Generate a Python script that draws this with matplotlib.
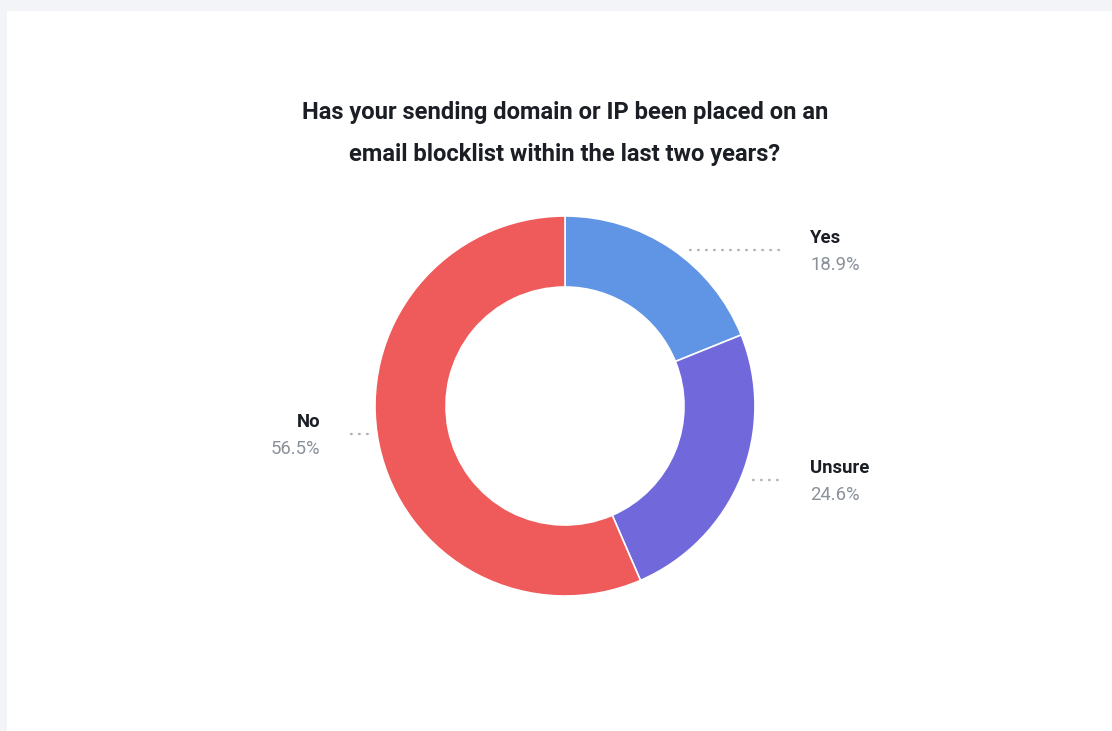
import numpy as np
import matplotlib.pyplot as plt
from matplotlib.patches import Rectangle

plt.rcParams['font.family'] = ['Roboto', 'DejaVu Sans']

title = "Has your sending domain or IP been placed on an\nemail blocklist within the last two years?"
labels = ["Yes", "Unsure", "No"]
shares = [18.9, 24.6, 56.5]
colors = ["#6095e6", "#7068db", "#ef5a5a"]

W, H = 1112, 731
fig = plt.figure(figsize=(W / 100, H / 100), dpi=100)
fig.patch.set_facecolor("#f3f4f8")
ax = fig.add_axes([0, 0, 1, 1])
ax.set_xlim(0, W)
ax.set_ylim(0, H)
ax.set_aspect("equal")
ax.axis("off")

# white card
ax.add_patch(Rectangle((7, 0), W - 7, H - 11, facecolor="white", edgecolor="none", zorder=0))

cx, cy = 565, H - 406
R, ring = 190, 71
wedges, _ = ax.pie(shares, colors=colors, startangle=90, counterclock=False,
                   radius=R, center=(cx, cy),
                   wedgeprops=dict(width=ring, edgecolor="white", linewidth=1.2))
ax.set_xlim(0, W)
ax.set_ylim(0, H)

line1, line2 = title.split("\n")
ax.text(cx, H - 112, line1, ha="center", va="center",
        fontsize=17.1, fontweight="bold", color="#1b1f25")
ax.text(cx, H - 155, line2, ha="center", va="center",
        fontsize=17.1, fontweight="bold", color="#1b1f25")

# leader lines and labels
leader_y = {"Yes": 250, "Unsure": 480, "No": 434}
for w, lab, val in zip(wedges, labels, shares):
    mid = np.deg2rad((w.theta1 + w.theta2) / 2)
    ox = cx + R * np.cos(mid)
    ly = H - leader_y[lab]
    if np.cos(mid) >= 0:
        x0, x1 = max(ox + 12, 690), 780
        tx, ha = 810, "left"
    else:
        x0, x1 = 351, min(ox - 10, 369)
        tx, ha = 320, "right"
    ax.plot([x0, x1], [ly, ly], color="#aeb3ba", lw=1.7,
            linestyle=(0, (0.3, 3.1)), dash_capstyle="round")
    ax.text(tx, ly + 12, lab, ha=ha, va="center", fontsize=13.3,
            fontweight="bold", color="#1b1f25")
    ax.text(tx, ly - 15, f"{val}%", ha=ha, va="center", fontsize=13.3,
            fontweight="normal", color="#8a919a")

fig.savefig("out.png", dpi=100, facecolor=fig.get_facecolor())
